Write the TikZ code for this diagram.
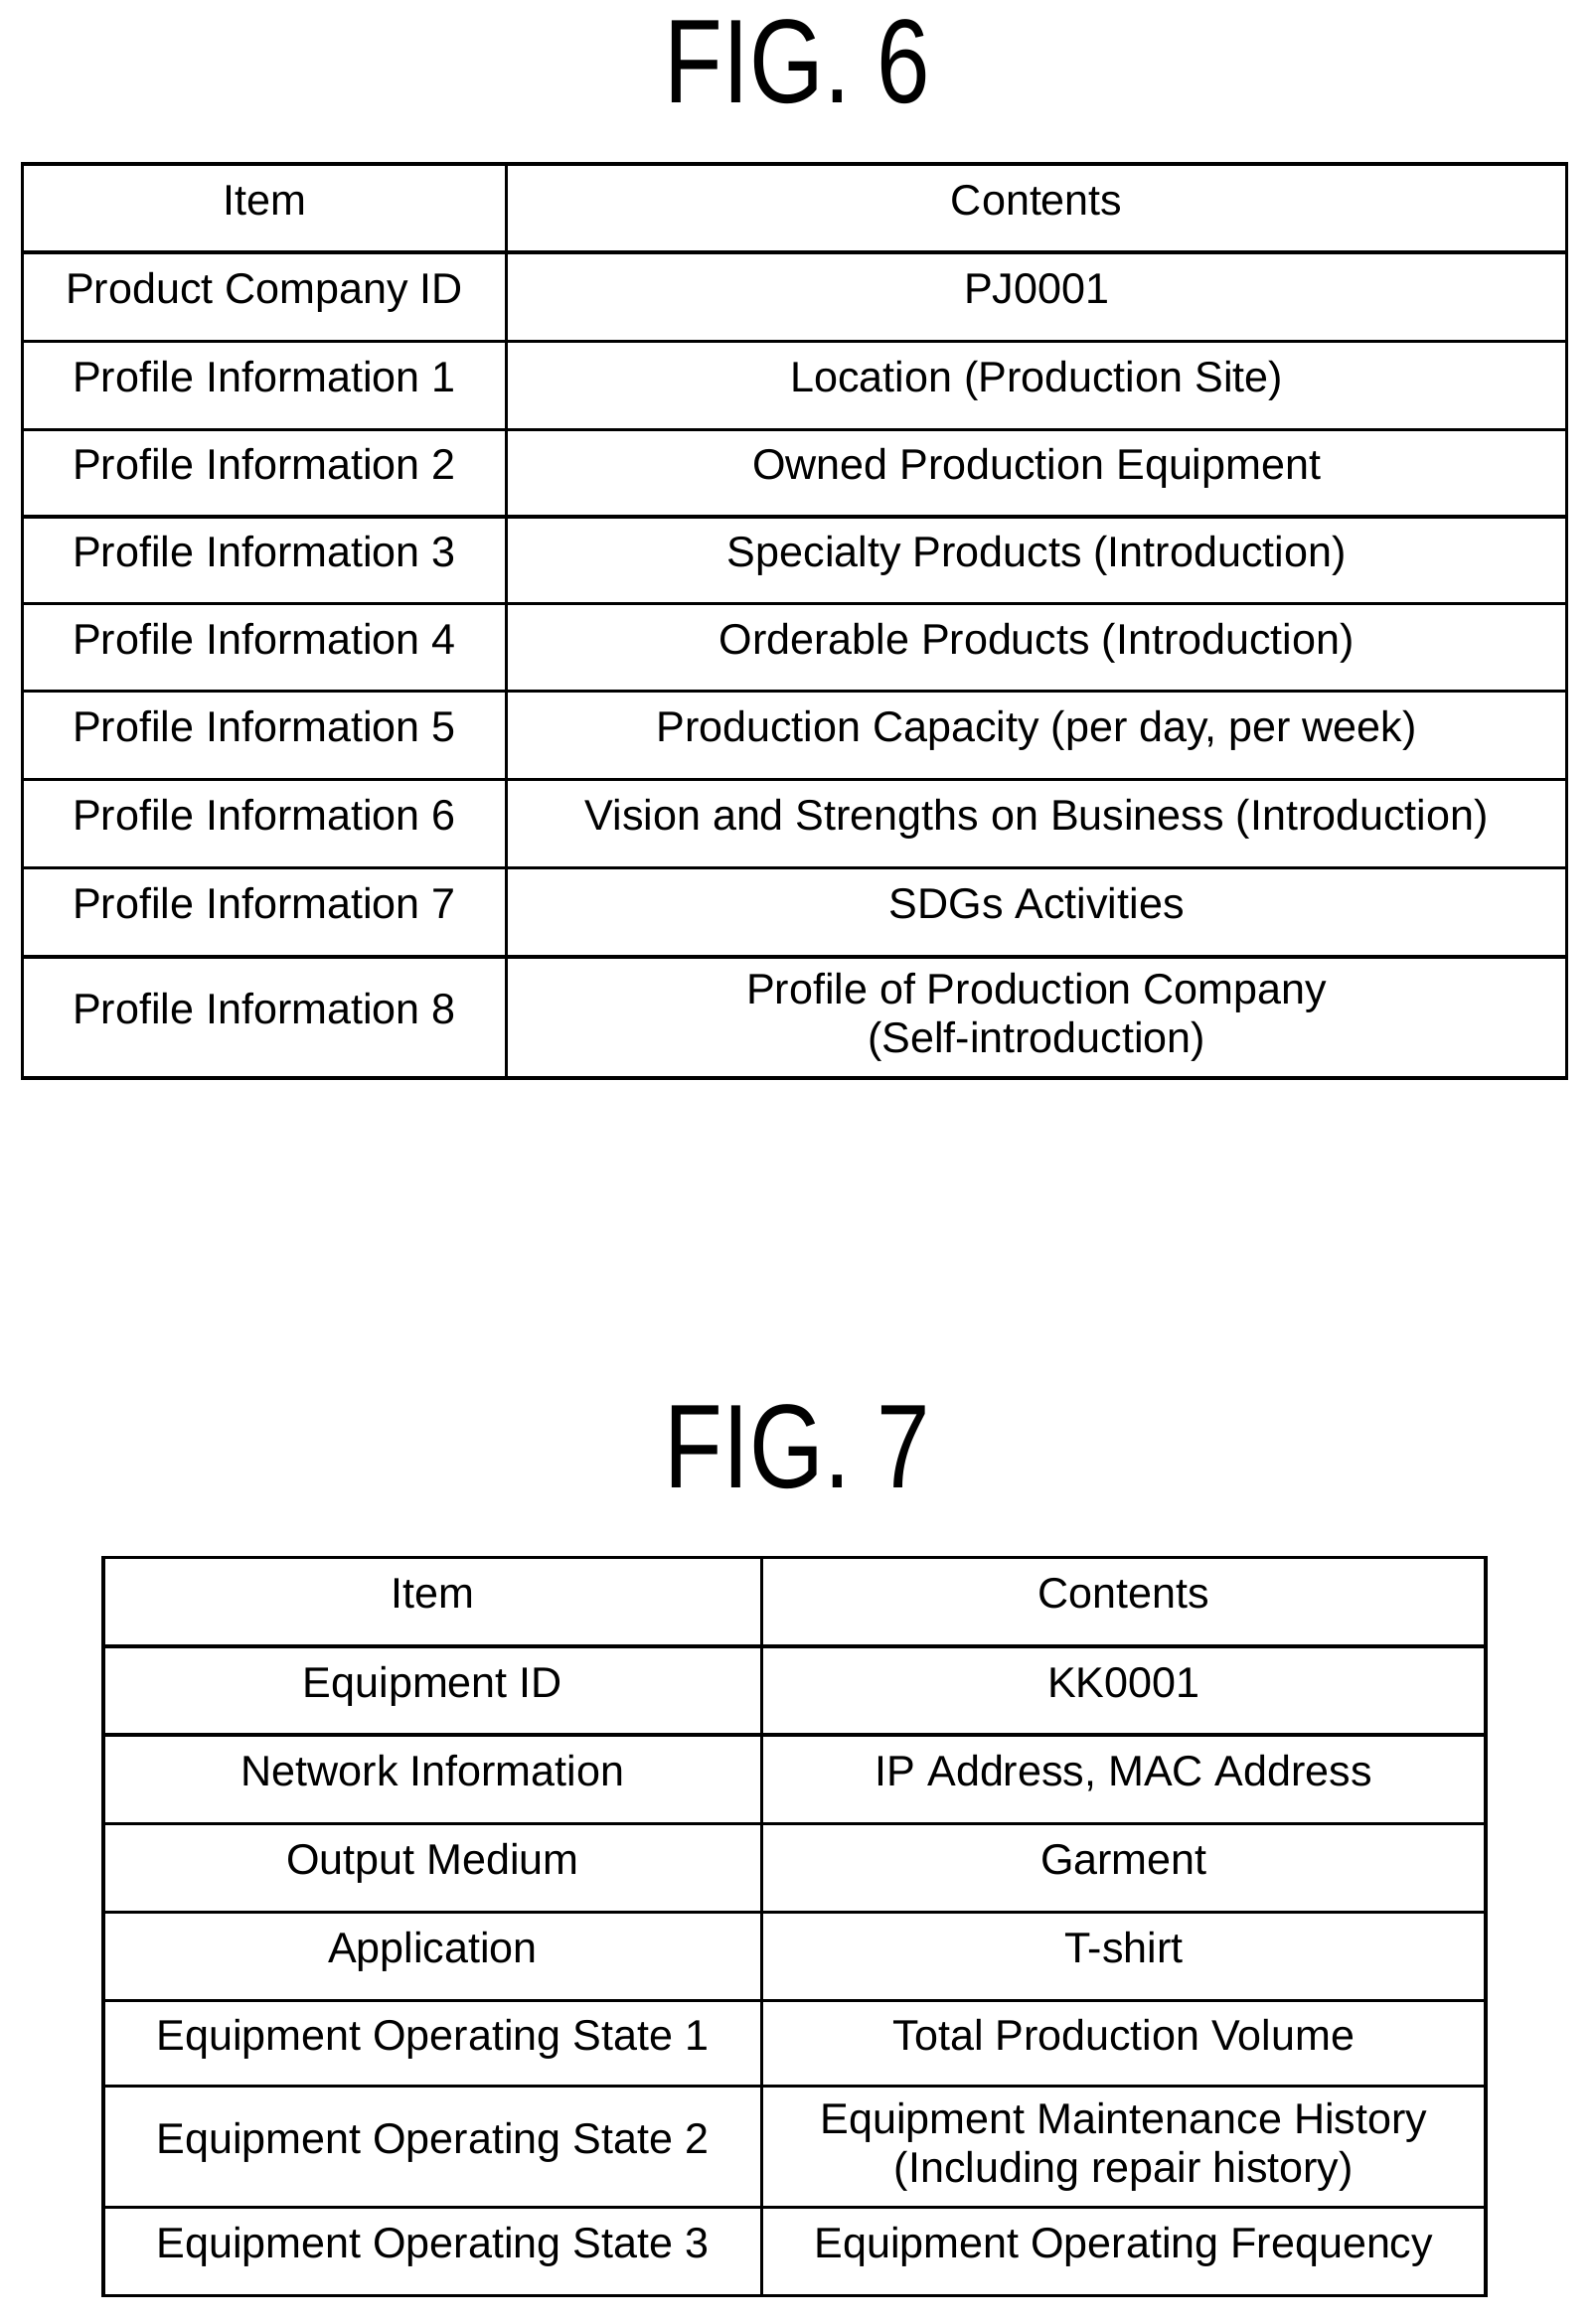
\documentclass[tikz,border=0pt]{standalone}
\usepackage{fontspec}
\setmainfont{Liberation Sans}
\begin{document}
\begin{tikzpicture}[x=0.02cm,y=-0.02cm,
  cell/.style={font=\fontsize{16.5}{19}\selectfont,align=center,inner sep=0pt,text height=1.3ex,text depth=0.35ex},
  title/.style={font=\fontsize{46}{48}\selectfont,inner sep=0pt,xscale=0.8},
  grid/.style={line width=1.3pt}]
\useasboundingbox (0,0) rectangle (1080,1574);
\node[title] (t6) at (540,42) {FIG. 6};
\node[title] (t7) at (540,980) {FIG. 7};
% table 6
\draw[grid] (15,111) rectangle (1061,730);
\draw[grid] (343,111) -- (343,730);
\foreach \y in {171,231,291,350,409,468,528,588,648} \draw[grid] (15,\y) -- (1061,\y);
\foreach \a/\b/\l/\r [count=\i] in {111/171/Item/Contents,171/231/Product Company ID/PJ0001,231/291/Profile Information 1/Location (Production Site),291/350/Profile Information 2/Owned Production Equipment,350/409/Profile Information 3/Specialty Products (Introduction),409/468/Profile Information 4/Orderable Products (Introduction),468/528/Profile Information 5/{Production Capacity (per day, per week)},528/588/Profile Information 6/Vision and Strengths on Business (Introduction),588/648/Profile Information 7/SDGs Activities}
{\node[cell] (a\i) at (179,{(\a+\b)/2}) {\l};
 \node[cell] (b\i) at (702,{(\a+\b)/2}) {\r};}
\node[cell] (a10) at (179,689) {Profile Information 8};
\node[cell,text height=,text depth=] (b10) at (702,689) {Profile of Production Company\\(Self-introduction)};
% table 7
\draw[grid] (70,1055) rectangle (1006,1555);
\draw[grid] (516,1055) -- (516,1555);
\foreach \y in {1115,1175,1235,1295,1355,1413,1495} \draw[grid] (70,\y) -- (1006,\y);
\foreach \a/\b/\l/\r [count=\i] in {1055/1115/Item/Contents,1115/1175/Equipment ID/KK0001,1175/1235/Network Information/{IP Address, MAC Address},1235/1295/Output Medium/Garment,1295/1355/Application/T-shirt,1355/1413/Equipment Operating State 1/Total Production Volume,1495/1555/Equipment Operating State 3/Equipment Operating Frequency}
{\node[cell] (c\i) at (293,{(\a+\b)/2}) {\l};
 \node[cell] (d\i) at (761,{(\a+\b)/2}) {\r};}
\node[cell] (c8) at (293,1454) {Equipment Operating State 2};
\node[cell,text height=,text depth=] (d8) at (761,1454) {Equipment Maintenance History\\(Including repair history)};
\end{tikzpicture}
\end{document}
